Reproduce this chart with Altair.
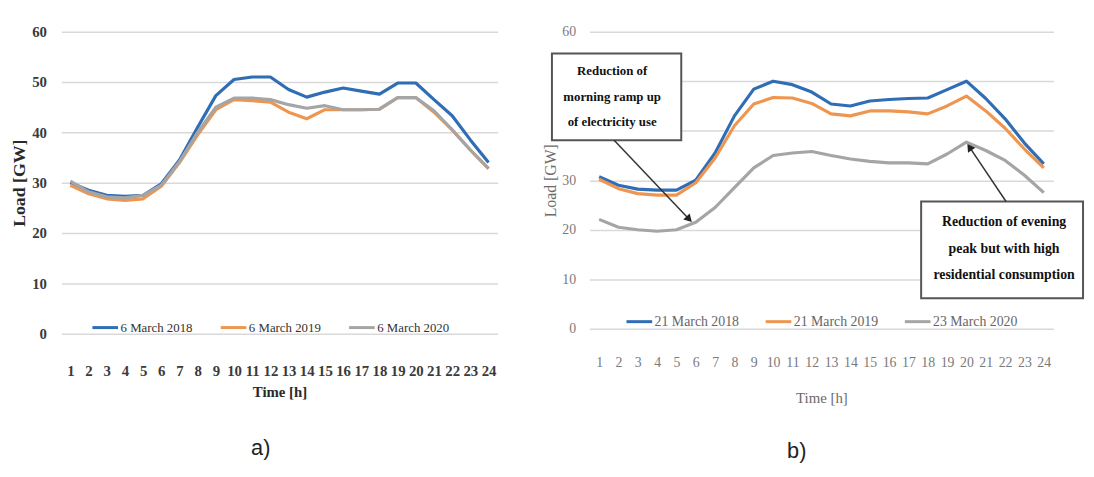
import altair as alt
import pandas as pd

hours = list(range(1, 25))
y_ticks = [0, 10, 20, 30, 40, 50, 60]

a_labels = ["6 March 2018", "6 March 2019", "6 March 2020"]
a_2018 = [30.0, 28.5, 27.5, 27.3, 27.5, 29.8, 34.5, 41.0, 47.3, 50.5, 51.0, 51.0,
          48.5, 47.0, 48.0, 48.8, 48.2, 47.6, 49.8, 49.8, 46.5, 43.3, 38.5, 34.0]
a_2019 = [29.5, 27.8, 26.8, 26.5, 26.8, 29.3, 34.0, 39.5, 44.5, 46.5, 46.3, 46.0,
          44.0, 42.7, 44.5, 44.5, 44.5, 44.6, 46.9, 46.9, 44.0, 40.5, 36.5, 32.8]
a_2020 = [30.3, 28.2, 27.2, 27.0, 27.5, 29.5, 34.2, 40.0, 45.0, 46.8, 46.8, 46.5,
          45.5, 44.8, 45.3, 44.5, 44.5, 44.6, 46.9, 46.9, 44.3, 40.5, 36.5, 32.8]

b_labels = ["21 March 2018", "21 March 2019", "23 March 2020"]
b_2018 = [30.7, 29.0, 28.2, 28.0, 28.0, 30.0, 35.5, 43.0, 48.4, 50.0, 49.3, 47.8,
          45.4, 45.0, 46.0, 46.3, 46.5, 46.6, 48.3, 50.0, 46.5, 42.4, 37.5, 33.3]
b_2019 = [30.2, 28.3, 27.3, 27.0, 27.0, 29.5, 34.5, 41.0, 45.4, 46.7, 46.6, 45.5,
          43.4, 43.0, 44.0, 44.0, 43.8, 43.4, 45.0, 47.0, 44.0, 40.5, 36.3, 32.5]
b_2020 = [22.1, 20.5, 20.0, 19.7, 20.0, 21.5, 24.5, 28.5, 32.5, 35.0, 35.5, 35.8,
          35.0, 34.3, 33.8, 33.5, 33.5, 33.3, 35.3, 37.7, 36.0, 34.0, 31.0, 27.5]

colors = ["#2F6DB5", "#EE9650", "#A5A5A5"]

note_morning = ["Reduction of", "morning ramp up", "of electricity use"]
note_evening = ["Reduction of evening", "peak but with high", "residential consumption"]

SERIF = "Liberation Serif"


def long_df(labels, series):
    rows = []
    for lab, vals in zip(labels, series):
        for h, v in zip(hours, vals):
            rows.append({"hour": h, "load": v, "series": lab})
    return pd.DataFrame(rows)


def panel(df, labels, w, h, st):
    x = alt.X("hour:Q",
              scale=alt.Scale(domain=[0.5, 24.5], nice=False, zero=False),
              axis=alt.Axis(values=hours, title="Time [h]", grid=False, domain=False,
                            ticks=False, labelFont=SERIF, labelFontSize=st["fs"],
                            labelFontWeight=st["fw"], labelColor=st["lc"],
                            labelPadding=st["xlp"], labelFlush=False, labelOverlap=False,
                            titleFont=SERIF, titleFontSize=st["xts"], titleFontWeight=st["fw"],
                            titleColor=st["tc"], titlePadding=st["xtp"], zindex=0))
    y = alt.Y("load:Q",
              scale=alt.Scale(domain=[0, 60], nice=False),
              axis=alt.Axis(values=y_ticks, title="Load [GW]", domain=False, ticks=False,
                            gridColor="#D9D9D9", gridWidth=1.5, labelExpr=st["lexpr"],
                            labelFont=SERIF, labelFontSize=st["fs"], labelFontWeight=st["fw"],
                            labelColor=st["lc"], labelPadding=st["ylp"],
                            titleFont=SERIF, titleFontSize=st["yts"], titleFontWeight=st["fw"],
                            titleColor=st["tc"], titlePadding=st["ytp"], zindex=0))
    color = alt.Color("series:N", sort=labels,
                      scale=alt.Scale(domain=labels, range=colors),
                      legend=alt.Legend(orient="none", legendX=st["lx"], legendY=st["ly"],
                                        direction="horizontal", title=None,
                                        symbolType="stroke", symbolSize=676,
                                        symbolStrokeWidth=3, labelFont=SERIF,
                                        labelFontSize=st["lfs"], labelColor=st["llc"],
                                        labelOffset=1, columnPadding=st["cp"]))
    lines = alt.Chart(df).mark_line(strokeWidth=3.2, strokeJoin="round").encode(
        x=x, y=y, color=color)
    return lines.properties(width=w, height=h)


dummy = pd.DataFrame({"k": [0]})

st_a = dict(fs=15, fw="bold", lc="#3A3A3A", tc="#2A2A2A", xlp=30, xtp=7, ylp=15, ytp=3,
            xts=15, yts=18, lx=30, ly=285, lfs=13, llc="#333333", cp=22,
            lexpr="datum.label")
# labels 40 and 50 of panel b) lie under the annotation box in the reference
st_b = dict(fs=14, fw="normal", lc="#7A7A7A", tc="#6A6A6A", xlp=27, xtp=22, ylp=14, ytp=3,
            xts=15, yts=16, lx=36, ly=279, lfs=14, llc="#666666", cp=20,
            lexpr="(datum.value == 40 || datum.value == 50) ? '' : datum.label")

left_lines = panel(long_df(a_labels, [a_2018, a_2019, a_2020]), a_labels, 442, 306, st_a)
left_tag = alt.Chart(dummy).mark_text(text="a)", font="Liberation Sans", fontSize=22,
                                      color="#222222").encode(
    x=alt.value(202), y=alt.value(422))
left = alt.layer(left_lines, left_tag)

right_lines = panel(long_df(b_labels, [b_2018, b_2019, b_2020]), b_labels, 470, 301, st_b)

box1 = alt.Chart(dummy).mark_rect(fill="white", stroke="#555555", strokeWidth=2).encode(
    x=alt.value(-38), x2=alt.value(93), y=alt.value(22), y2=alt.value(110))
txt1 = alt.Chart(dummy).mark_text(text=note_morning, font=SERIF, fontSize=13,
                                  fontWeight="bold", lineHeight=26, color="#111111",
                                  baseline="middle").encode(
    x=alt.value(23), y=alt.value(40))
arr1 = alt.Chart(dummy).mark_rule(stroke="#333333", strokeWidth=1.5).encode(
    x=alt.value(25), x2=alt.value(101), y=alt.value(110), y2=alt.value(190))
head1 = alt.Chart(dummy).mark_point(shape="triangle-up", filled=True, fill="#222222",
                                    size=80, angle=136, opacity=1).encode(
    x=alt.value(101), y=alt.value(190))

box2 = alt.Chart(dummy).mark_rect(fill="white", stroke="#555555", strokeWidth=2).encode(
    x=alt.value(336), x2=alt.value(500), y=alt.value(172), y2=alt.value(270))
txt2 = alt.Chart(dummy).mark_text(text=note_evening, font=SERIF, fontSize=14,
                                  fontWeight="bold", lineHeight=27, color="#111111",
                                  baseline="middle").encode(
    x=alt.value(420), y=alt.value(193))
arr2 = alt.Chart(dummy).mark_rule(stroke="#333333", strokeWidth=1.5).encode(
    x=alt.value(422), x2=alt.value(385), y=alt.value(172), y2=alt.value(117))
head2 = alt.Chart(dummy).mark_point(shape="triangle-up", filled=True, fill="#222222",
                                    size=80, angle=326, opacity=1).encode(
    x=alt.value(385), y=alt.value(117))
right_tag = alt.Chart(dummy).mark_text(text="b)", font="Liberation Sans", fontSize=22,
                                       color="#222222").encode(
    x=alt.value(210), y=alt.value(425))

right = alt.layer(right_lines, box1, txt1, arr1, head1, box2, txt2, arr2, head2, right_tag)

chart = alt.hconcat(left, right, spacing=46).resolve_scale(
    color="independent").resolve_legend(color="independent").properties(
    padding={"left": 3, "top": 14, "right": 2, "bottom": 2},
    background="white").configure_view(stroke=None)

chart.save("out.html", embed_options={"renderer": "svg", "actions": False})
